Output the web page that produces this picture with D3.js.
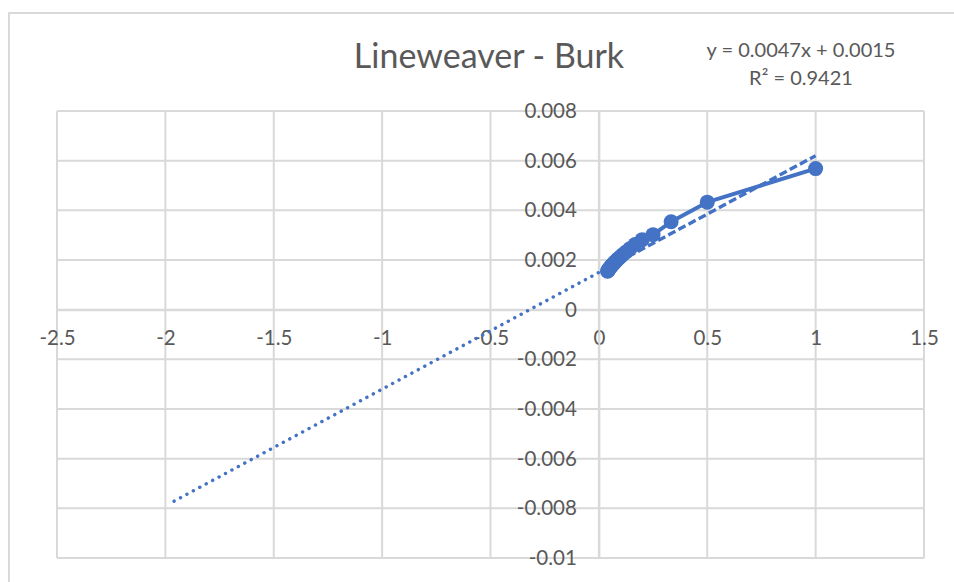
<!DOCTYPE html>
<html>
<head>
<meta charset="utf-8">
<script src="https://cdn.jsdelivr.net/npm/d3@7"></script>
<style>
  html, body { margin: 0; padding: 0; background: #fff; }
  svg { display: block; font-family: Lato, "Noto Sans", sans-serif; }
</style>
</head>
<body>
<svg id="chart"></svg>
<script>
// Chart data
const invS = [1, 1/2, 1/3, 1/4, 1/5, 1/6, 1/7, 1/8, 1/9, 1/10, 1/11, 1/12, 1/13,
              1/14, 1/15, 1/16, 1/17, 1/18, 1/19, 1/20, 1/21, 1/22, 1/23, 1/24, 1/25];
const invV = [0.00568, 0.00433, 0.00354, 0.00302, 0.00282, 0.00262, 0.00245, 0.00232,
              0.00222, 0.00213, 0.00206, 0.00200, 0.00194, 0.00189, 0.00185, 0.00181,
              0.00177, 0.00174, 0.00171, 0.00168, 0.00165, 0.00162, 0.00160, 0.00157, 0.00155];

// Linear trendline as given in its label, forecast 2 units backward
const trendSlope = 0.0047;
const trendIntercept = 0.0015;
const trendBackward = 2;

const xTicks = [-2.5, -2, -1.5, -1, -0.5, 0, 0.5, 1, 1.5];
const xTickLabels = ["-2.5", "-2", "-1.5", "-1", "-0.5", "0", "0.5", "1", "1.5"];
const yTicks = [0.008, 0.006, 0.004, 0.002, 0, -0.002, -0.004, -0.006, -0.008, -0.01];
const yTickLabels = ["0.008", "0.006", "0.004", "0.002", "0", "-0.002", "-0.004", "-0.006", "-0.008", "-0.01"];

const title = "Lineweaver - Burk";
const eqLines = ["y = 0.0047x + 0.0015", "R² = 0.9421"];

// Layout
const width = 954;
const height = 582;
const plot = { left: 57, right: 924, top: 111, bottom: 558 };
const blue = "#4472C4";
const grid = "#d9d9d9";
const textColor = "#595959";

const svg = d3.select("#chart")
    .attr("width", width)
    .attr("height", height);

svg.append("rect").attr("width", width).attr("height", height).attr("fill", "#fff");

// chart area border (only top/left are inside the window)
svg.append("rect")
    .attr("x", 9).attr("y", 13)
    .attr("width", width + 20).attr("height", height + 20)
    .attr("fill", "none")
    .attr("stroke", grid)
    .attr("stroke-width", 2);

const x = d3.scaleLinear().domain([-2.5, 1.5]).range([plot.left, plot.right]);
const y = d3.scaleLinear().domain([-0.01, 0.008]).range([plot.bottom, plot.top]);

// gridlines
svg.append("g")
    .selectAll("line.v")
    .data(xTicks)
    .join("line")
    .attr("x1", d => x(d)).attr("x2", d => x(d))
    .attr("y1", plot.top).attr("y2", plot.bottom)
    .attr("stroke", grid).attr("stroke-width", 2);

svg.append("g")
    .selectAll("line.h")
    .data(yTicks)
    .join("line")
    .attr("x1", plot.left).attr("x2", plot.right)
    .attr("y1", d => y(d)).attr("y2", d => y(d))
    .attr("stroke", grid).attr("stroke-width", 2);

// axes through the origin
const xAxis = d3.axisBottom(x)
    .tickValues(xTicks)
    .tickSize(0)
    .tickPadding(21)
    .tickFormat((d, i) => xTickLabels[i]);

svg.append("g")
    .attr("transform", `translate(0,${y(0)})`)
    .call(xAxis)
    .call(g => g.select(".domain").attr("stroke", grid).attr("stroke-width", 2))
    .selectAll("text")
    .attr("fill", textColor)
    .style("font-size", "20.5px")
    .style("font-family", "Lato, 'Noto Sans', sans-serif");

const yAxis = d3.axisLeft(y)
    .tickValues(yTicks)
    .tickSize(0)
    .tickPadding(22)
    .tickFormat((d, i) => yTickLabels[i]);

svg.append("g")
    .attr("transform", `translate(${x(0)},0)`)
    .call(yAxis)
    .call(g => g.select(".domain").attr("stroke", grid).attr("stroke-width", 2))
    .selectAll("text")
    .attr("fill", textColor)
    .style("font-size", "20.5px")
    .style("font-family", "Lato, 'Noto Sans', sans-serif");

// trendline: dotted forecast part, dashed over the data range
const xMin = d3.min(invS);
const xMax = d3.max(invS);
const trend = t => trendSlope * t + trendIntercept;

svg.append("line")
    .attr("x1", x(xMin - trendBackward)).attr("y1", y(trend(xMin - trendBackward)))
    .attr("x2", x(xMin)).attr("y2", y(trend(xMin)))
    .attr("stroke", blue)
    .attr("stroke-width", 3.4)
    .attr("stroke-linecap", "round")
    .attr("stroke-dasharray", "0.1 7.2");

svg.append("line")
    .attr("x1", x(xMin)).attr("y1", y(trend(xMin)))
    .attr("x2", x(xMax)).attr("y2", y(trend(xMax)))
    .attr("stroke", blue)
    .attr("stroke-width", 3.4)
    .attr("stroke-dasharray", "8 3.5");

// data series
const pts = invS.map((d, i) => [d, invV[i]]);

svg.append("path")
    .datum(pts)
    .attr("fill", "none")
    .attr("stroke", blue)
    .attr("stroke-width", 4)
    .attr("stroke-linejoin", "round")
    .attr("d", d3.line().x(d => x(d[0])).y(d => y(d[1])));

svg.append("g")
    .selectAll("circle")
    .data(pts)
    .join("circle")
    .attr("cx", d => x(d[0]))
    .attr("cy", d => y(d[1]))
    .attr("r", 7.5)
    .attr("fill", blue);

// title
svg.append("text")
    .attr("x", 489)
    .attr("y", 68)
    .attr("text-anchor", "middle")
    .attr("fill", textColor)
    .style("font-size", "34px")
    .text(title);

// trendline label
svg.append("g")
    .selectAll("text")
    .data(eqLines)
    .join("text")
    .attr("x", 801)
    .attr("y", (d, i) => 57 + i * 28)
    .attr("text-anchor", "middle")
    .attr("fill", textColor)
    .style("font-size", "20px")
    .text(d => d);
</script>
</body>
</html>
